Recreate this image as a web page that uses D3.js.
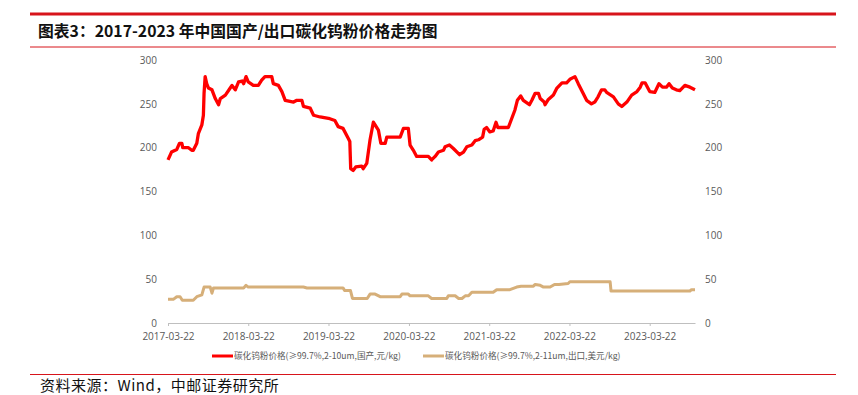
<!DOCTYPE html>
<html>
<head>
<meta charset="utf-8">
<script src="https://cdn.jsdelivr.net/npm/d3@7"></script>
<style>
  body { margin: 0; background: #fff; }
  svg { display: block; font-family: "Noto Sans CJK SC", "Noto Sans", sans-serif; }
</style>
</head>
<body>
<svg id="chart" width="858" height="395"></svg>
<script>
// domestic price, 元/kg
const domesticDates = ['2017-03-22','2017-04-07','2017-05-01','2017-05-13','2017-05-24','2017-05-28','2017-06-23','2017-07-08','2017-07-15','2017-07-31','2017-08-07','2017-08-23','2017-08-30','2017-09-02','2017-09-07','2017-09-14','2017-09-22','2017-10-08','2017-10-23','2017-11-07','2017-11-15','2017-12-08','2017-12-30','2018-01-07','2018-01-22','2018-02-06','2018-02-22','2018-03-01','2018-03-12','2018-03-22','2018-04-14','2018-05-07','2018-05-22','2018-06-06','2018-07-07','2018-07-14','2018-08-06','2018-08-22','2018-09-06','2018-10-14','2018-10-29','2018-11-21','2018-11-28','2018-12-29','2019-01-13','2019-02-12','2019-03-28','2019-04-20','2019-05-05','2019-05-27','2019-06-19','2019-06-27','2019-07-01','2019-07-12','2019-07-24','2019-08-20','2019-08-27','2019-09-12','2019-09-27','2019-10-12','2019-11-04','2019-11-15','2019-12-05','2019-12-12','2020-02-11','2020-02-26','2020-03-19','2020-03-27','2020-04-11','2020-04-26','2020-06-18','2020-07-03','2020-07-19','2020-08-03','2020-08-26','2020-09-02','2020-09-22','2020-10-10','2020-11-07','2020-11-25','2020-12-10','2021-01-02','2021-01-17','2021-02-01','2021-02-20','2021-02-27','2021-03-10','2021-03-25','2021-04-09','2021-04-22','2021-04-30','2021-06-17','2021-07-02','2021-07-17','2021-07-28','2021-08-12','2021-08-24','2021-09-21','2021-10-02','2021-10-17','2021-11-01','2021-11-09','2021-11-27','2021-12-01','2021-12-16','2022-01-08','2022-01-24','2022-02-16','2022-03-09','2022-03-24','2022-04-16','2022-05-01','2022-05-23','2022-06-08','2022-06-30','2022-07-15','2022-07-30','2022-08-15','2022-08-30','2022-09-07','2022-10-08','2022-10-30','2022-11-15','2022-12-08','2022-12-30','2023-01-23','2023-02-07','2023-02-15','2023-03-01','2023-03-22','2023-04-14','2023-05-03','2023-05-19','2023-06-06','2023-06-18','2023-07-03','2023-07-21','2023-08-06','2023-08-29','2023-09-21','2023-10-14'];
const domesticValues = [186,195,198,205,205,200,200,197,197,205,216,226,237,262,281,273,268,266,256,249,256,260,268,271,266,275,276,273,281,275,271,271,277,281,281,273,271,264,254,252,254,254,247,245,237,235,233,231,224,222,211,207,176,174,178,179,176,182,209,229,220,205,205,212,212,222,222,203,197,190,190,186,190,195,197,201,203,199,192,195,201,203,208,209,212,221,223,218,219,229,223,223,233,243,254,259,254,249,254,262,262,256,252,249,255,260,268,274,274,278,281,273,262,254,250,252,258,266,266,263,258,250,247,252,260,264,269,274,274,264,263,273,269,269,273,268,266,265,271,269,266];

// export price, 美元/kg
const exportDates = ['2017-03-22','2017-04-15','2017-05-01','2017-05-16','2017-05-26','2017-07-15','2017-07-31','2017-08-23','2017-09-02','2017-09-30','2017-10-08','2017-10-15','2018-03-01','2018-03-12','2018-03-22','2018-11-28','2018-12-14','2019-05-27','2019-06-04','2019-06-30','2019-07-09','2019-09-14','2019-09-27','2019-10-20','2019-11-12','2020-02-11','2020-02-19','2020-03-19','2020-03-27','2020-06-18','2020-07-03','2020-09-10','2020-09-17','2020-10-18','2020-11-03','2020-11-18','2020-12-03','2020-12-18','2021-01-02','2021-04-09','2021-04-25','2021-06-24','2021-07-25','2021-08-14','2021-10-09','2021-10-17','2021-11-09','2021-11-24','2021-12-24','2022-01-13','2022-02-02','2022-03-16','2022-03-24','2022-09-23','2022-09-27','2023-09-21','2023-09-28','2023-10-14'];
const exportValues = [27,27,30,30,26,26,30,32,41,41,34,40,40,43,41,41,40,40,37,37,28,28,33,33,30,30,33,33,31,31,28,28,31,31,28,28,31,31,35,35,38,38,41,42,42,44,43,41,41,44,44,45,47,47,36.5,36.5,38,38];

const yTicks = [0, 50, 100, 150, 200, 250, 300];
const xTickLabels = ['2017-03-22','2018-03-22','2019-03-22','2020-03-22','2021-03-22','2022-03-22','2023-03-22'];
const seriesNames = ['碳化钨粉价格(≥99.7%,2-10um,国产,元/kg)', '碳化钨粉价格(≥99.7%,2-11um,出口,美元/kg)'];
const seriesColors = ['#ff0000', '#d6af79'];

const parse = d3.timeParse('%Y-%m-%d');
const domestic = domesticDates.map((d, i) => ({ date: parse(d), value: domesticValues[i] }));
const exported = exportDates.map((d, i) => ({ date: parse(d), value: exportValues[i] }));

const svg = d3.select('#chart');
const plotLeft = 168, plotRight = 695, plotTop = 60, plotBottom = 323;

// header / footer rules and texts
svg.append('line').attr('x1', 30).attr('x2', 836).attr('y1', 14).attr('y2', 14)
  .attr('stroke', '#d7141b').attr('stroke-width', 3);
svg.append('text').attr('x', 38).attr('y', 37)
  .attr('font-size', 15.8).attr('font-weight', 700).attr('fill', '#111')
  .text('图表3：2017-2023 年中国国产/出口碳化钨粉价格走势图');
svg.append('line').attr('x1', 30).attr('x2', 836).attr('y1', 47).attr('y2', 47)
  .attr('stroke', '#d7141b').attr('stroke-width', 1);
svg.append('line').attr('x1', 30).attr('x2', 836).attr('y1', 374.5).attr('y2', 374.5)
  .attr('stroke', '#d7141b').attr('stroke-width', 1);
svg.append('text').attr('x', 40).attr('y', 391)
  .attr('font-size', 15).attr('fill', '#111').attr('letter-spacing', 0.5)
  .text('资料来源：Wind，中邮证券研究所');

const x = d3.scaleTime()
  .domain([parse('2017-03-22'), parse('2023-10-14')])
  .range([plotLeft, plotRight]);
const y = d3.scaleLinear().domain([0, 300]).range([plotBottom, plotTop]);

const g = svg.append('g');

// x axis
const xAxis = g.append('g')
  .attr('transform', 'translate(0,' + plotBottom + ')')
  .call(d3.axisBottom(x)
    .tickValues(xTickLabels.map(parse))
    .tickFormat(d3.timeFormat('%Y-%m-%d'))
    .tickSizeInner(3).tickSizeOuter(0).tickPadding(7));
xAxis.select('.domain').attr('stroke', '#bfbfbf');
xAxis.selectAll('.tick line').attr('stroke', '#bfbfbf');
xAxis.selectAll('.tick text').attr('fill', '#595959').attr('font-size', 10)
  .attr('font-family', '"Open Sans", "Noto Sans", sans-serif');

// left and right y axes (labels only)
const yLeft = g.append('g')
  .attr('transform', 'translate(' + (plotLeft - 11) + ',0)')
  .call(d3.axisLeft(y).tickValues(yTicks).tickSize(0).tickPadding(0));
const yRight = g.append('g')
  .attr('transform', 'translate(' + (plotRight + 10) + ',0)')
  .call(d3.axisRight(y).tickValues(yTicks).tickSize(0).tickPadding(0));
[yLeft, yRight].forEach(ax => {
  ax.select('.domain').remove();
  ax.selectAll('.tick text').attr('fill', '#595959').attr('font-size', 10)
    .attr('font-family', '"Open Sans", "Noto Sans", sans-serif');
});

const line = d3.line().x(d => x(d.date)).y(d => y(d.value));

g.append('path').datum(exported)
  .attr('fill', 'none').attr('stroke', seriesColors[1]).attr('stroke-width', 3)
  .attr('stroke-linejoin', 'round').attr('d', line);
g.append('path').datum(domestic)
  .attr('fill', 'none').attr('stroke', seriesColors[0]).attr('stroke-width', 3.3)
  .attr('stroke-linejoin', 'round').attr('d', line);

// legend
const legendX = [212, 423];
seriesNames.forEach((name, i) => {
  const lg = svg.append('g').attr('transform', 'translate(' + legendX[i] + ',356)');
  lg.append('line').attr('x1', 0).attr('x2', 21).attr('stroke', seriesColors[i]).attr('stroke-width', 3);
  lg.append('text').attr('x', 22).attr('dy', '0.35em')
    .attr('font-size', 8.6).attr('fill', '#595959').text(name);
});
</script>
</body>
</html>
